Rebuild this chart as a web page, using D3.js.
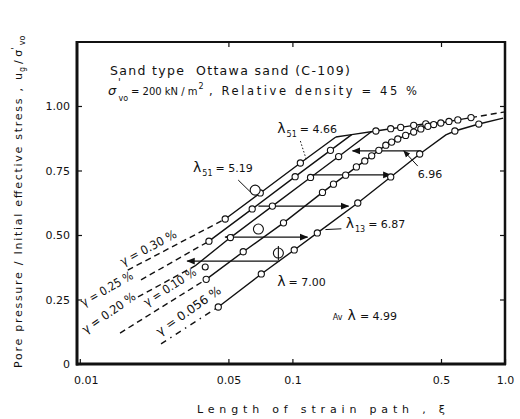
<!DOCTYPE html>
<html><head><meta charset="utf-8">
<script src="https://cdn.jsdelivr.net/npm/d3@7/dist/d3.min.js"></script>
<style>
body{margin:0;background:#fff}
svg text{font-family:"DejaVu Sans",sans-serif;fill:#111}
</style></head><body>
<script>
var W = 520, H = 419;

// axis ticks
var xTicks = [0.01, 0.05, 0.1, 0.5, 1.0];
var xTickLabels = ['0.01', '0.05', '0.1', '0.5', '1.0'];
var yTicks = [0, 0.25, 0.5, 0.75, 1.0];
var yTickLabels = ['0', '0.25', '0.50', '0.75', '1.00'];

// [strain path xi, u/sigma'vo, 1 = measured point]
var g030Dash = [[0.0168, 0.364], [0.0483, 0.562]];
var g030 = [[0.0483, 0.562, 1], [0.0706, 0.663, 1], [0.109, 0.779, 1], [0.160, 0.880, 0]];
var g025Dash = [[0.0194, 0.326], [0.0405, 0.476]];
var g025 = [[0.0405, 0.476, 1], [0.0647, 0.601, 1], [0.103, 0.726, 1], [0.151, 0.828, 1], [0.190, 0.889, 0]];
var g020Dash = [[0.01877, 0.260], [0.0348, 0.380]];
var g020 = [[0.0348, 0.380, 0], [0.0511, 0.490, 1], [0.0805, 0.612, 1], [0.1217, 0.723, 1], [0.165, 0.804, 1], [0.236, 0.901, 0]];
// common upper branch of the 0.20 - 0.30 % tests
var plateau = [[0.160, 0.880, 0], [0.190, 0.889, 0], [0.247, 0.903, 1], [0.290, 0.912, 1], [0.323, 0.917, 1],
               [0.372, 0.925, 1], [0.424, 0.931, 1], [0.499, 0.936, 0]];
var g010Dash = [[0.01546, 0.120], [0.0393, 0.328]];
var g010 = [[0.0393, 0.328, 1], [0.0587, 0.435, 1], [0.0908, 0.547, 1], [0.1385, 0.665, 1], [0.156, 0.697, 1],
            [0.178, 0.732, 1], [0.200, 0.764, 1], [0.219, 0.787, 1], [0.236, 0.807, 1], [0.255, 0.828, 1],
            [0.275, 0.848, 1], [0.293, 0.860, 1], [0.313, 0.872, 1], [0.341, 0.886, 1], [0.372, 0.899, 1],
            [0.402, 0.911, 1], [0.434, 0.921, 1], [0.462, 0.928, 1], [0.499, 0.934, 1], [0.545, 0.940, 1],
            [0.600, 0.946, 1], [0.692, 0.955, 1]];
var g010Tail = [[0.692, 0.955], [1.0, 0.977]];
var g056Dash = [[0.0241, 0.078], [0.0448, 0.221]];
var g056 = [[0.0448, 0.221, 1], [0.0714, 0.349, 1], [0.102, 0.442, 1], [0.131, 0.508, 1], [0.203, 0.624, 1],
            [0.290, 0.725, 1], [0.397, 0.814, 1], [0.527, 0.888, 0], [0.581, 0.903, 1], [0.753, 0.930, 1], [0.98, 0.953, 0]];

// horizontal shifts: [u, xi left, xi right, head left, head right]
var shifts = [[0.399, 0.032, 0.0869, 1, 0], [0.492, 0.0483, 0.1178, 1, 1], [0.612, 0.0692, 0.1837, 0, 1],
              [0.733, 0.124, 0.290, 0, 1], [0.826, 0.192, 0.402, 1, 0]];

var x = d3.scaleLog().domain([0.0097, 1.0]).range([77, 505]);
var y = d3.scaleLinear().domain([0, 1.248]).range([364, 42]);

var svg = d3.select('body').append('svg').attr('width', W).attr('height', H);
svg.append('defs').append('marker').attr('id', 'ah')
    .attr('viewBox', '0 0 10 10').attr('refX', 9).attr('refY', 5)
    .attr('markerWidth', 7).attr('markerHeight', 7).attr('orient', 'auto-start-reverse')
    .append('path').attr('d', 'M0,1L10,5L0,9z').attr('fill', '#111');

// axes - ticks point inwards
function styleAxis(g) {
    g.select('.domain').remove();
    g.selectAll('line').attr('stroke', '#111').attr('stroke-width', 1.2);
    g.selectAll('text').attr('font-size', 11).attr('font-family', '"DejaVu Sans",sans-serif');
}
svg.append('g').attr('transform', 'translate(0,364)')
    .call(d3.axisBottom(x).tickValues(xTicks).tickFormat(function (d, i) { return xTickLabels[i]; })
        .tickSize(-5).tickPadding(12))
    .call(styleAxis)
    .call(function (g) { g.select('.tick text').attr('dx', 6); });
svg.append('g').attr('transform', 'translate(77,0)')
    .call(d3.axisLeft(y).tickValues(yTicks).tickFormat(function (d, i) { return yTickLabels[i]; })
        .tickSize(-5).tickPadding(7))
    .call(styleAxis);
svg.append('g').attr('transform', 'translate(505,0)')
    .call(d3.axisRight(y).tickValues(yTicks.slice(1)).tickFormat('').tickSize(-5)).call(styleAxis);
svg.append('g').attr('transform', 'translate(0,42)')
    .call(d3.axisTop(x).tickValues([0.05, 0.1, 0.5]).tickFormat('').tickSize(-5)).call(styleAxis);

// frame
svg.append('line').attr('x1', 77).attr('x2', 77).attr('y1', 41).attr('y2', 365.5).attr('stroke', '#111').attr('stroke-width', 3);
svg.append('line').attr('x1', 76).attr('x2', 506).attr('y1', 364).attr('y2', 364).attr('stroke', '#111').attr('stroke-width', 3);
svg.append('line').attr('x1', 76).attr('x2', 506).attr('y1', 42).attr('y2', 42).attr('stroke', '#111').attr('stroke-width', 1.8);
svg.append('line').attr('x1', 505).attr('x2', 505).attr('y1', 41).attr('y2', 365).attr('stroke', '#111').attr('stroke-width', 2.5);

var line = d3.line().x(function (d) { return x(d[0]); }).y(function (d) { return y(d[1]); });
var solids = [g030, g025, g020, plateau, g010, g056];
var dashes = [g030Dash, g025Dash, g020Dash, g010Dash, g010Tail];

solids.forEach(function (s) {
    svg.append('path').attr('d', line(s)).attr('fill', 'none').attr('stroke', '#111').attr('stroke-width', 1.4);
});
dashes.forEach(function (s) {
    svg.append('path').attr('d', line(s)).attr('fill', 'none').attr('stroke', '#111')
        .attr('stroke-width', 1.4).attr('stroke-dasharray', '6,4');
});
svg.append('path').attr('d', line(g056Dash)).attr('fill', 'none').attr('stroke', '#111')
    .attr('stroke-width', 1.4).attr('stroke-dasharray', '6,5,1.5,5');

// shift arrows
shifts.forEach(function (a) {
    var l = svg.append('line').attr('x1', x(a[1])).attr('x2', x(a[2]))
        .attr('y1', y(a[0])).attr('y2', y(a[0])).attr('stroke', '#111').attr('stroke-width', 1.2);
    if (a[3]) l.attr('marker-start', 'url(#ah)');
    if (a[4]) l.attr('marker-end', 'url(#ah)');
});

// measured points
var pts = [];
solids.forEach(function (s) { s.forEach(function (d) { if (d[2]) pts.push(d); }); });
svg.selectAll('circle.pt').data(pts).enter().append('circle').attr('class', 'pt')
    .attr('cx', function (d) { return x(d[0]); })
    .attr('cy', function (d) { return y(d[1]); })
    .attr('r', 3.1).attr('fill', '#fff').attr('stroke', '#111').attr('stroke-width', 1.1);

// marked points
[[0.0668, 0.674, 5], [0.0692, 0.523, 5], [0.0859, 0.430, 5], [0.0389, 0.376, 3]].forEach(function (d, i) {
    svg.append('circle').attr('cx', x(d[0])).attr('cy', y(d[1])).attr('r', d[2])
        .attr('fill', '#fff').attr('stroke', '#111').attr('stroke-width', 1.1);
    if (i == 2) svg.append('line').attr('x1', x(d[0])).attr('x2', x(d[0]))
        .attr('y1', y(d[1]) - 7).attr('y2', y(d[1]) + 7).attr('stroke', '#111').attr('stroke-width', 1.1);
});

// pointer lines
function pointer(p, q, dash, head) {
    var l = svg.append('line').attr('x1', x(p[0])).attr('y1', y(p[1])).attr('x2', x(q[0])).attr('y2', y(q[1]))
        .attr('stroke', '#111').attr('stroke-width', 1);
    if (dash) l.attr('stroke-dasharray', dash);
    if (head) l.attr('marker-end', 'url(#ah)');
}
pointer([0.109, 0.864], [0.1164, 0.791], '1.5,2');
pointer([0.0556, 0.713], [0.0634, 0.667]);
pointer([0.389, 0.767], [0.334, 0.826], null, true);
pointer([0.143, 0.521], [0.170, 0.524]);

// lambda labels
function lam(xi, u, sub, rest) {
    var t = svg.append('text').attr('x', x(xi)).attr('y', y(u)).attr('font-size', 11);
    t.append('tspan').attr('font-size', 14).text('λ');
    if (sub) t.append('tspan').attr('font-size', 8).attr('dy', 4).attr('dx', 1).text(sub);
    t.append('tspan').attr('dy', sub ? -4 : 0).attr('dx', 3).text(rest);
}
lam(0.0849, 0.895, '51', '= 4.66');
lam(0.0341, 0.744, '51', '= 5.19');
lam(0.178, 0.527, '13', '= 6.87');
lam(0.0849, 0.302, '', '= 7.00');
svg.append('text').attr('x', x(0.389)).attr('y', y(0.721)).attr('font-size', 11).text('6.96');
var av = svg.append('text').attr('x', x(0.155)).attr('y', y(0.171)).attr('font-size', 8);
av.append('tspan').text('Av');
av.append('tspan').attr('dx', 5).attr('font-size', 14).text('λ');
av.append('tspan').attr('dx', 4).attr('font-size', 11).text('= 4.99');

// strain amplitude labels
var gLabels = [['γ = 0.30 %', 0.01595, 0.380, -28, 62], ['γ = 0.25 %', 0.01044, 0.221, -30, 58],
               ['γ = 0.20 %', 0.01067, 0.116, -35, 62], ['γ = 0.10 %', 0.0207, 0.222, -33, 60],
               ['γ = 0.056 %', 0.0238, 0.1085, -35, 76]];
gLabels.forEach(function (g) {
    svg.append('text').attr('transform', 'translate(' + x(g[1]) + ',' + y(g[2]) + ') rotate(' + g[3] + ')')
        .attr('font-size', 12).attr('textLength', g[4]).attr('lengthAdjust', 'spacingAndGlyphs').text(g[0]);
});

// header text
svg.append('text').attr('x', 110).attr('y', 75).attr('font-size', 12.5).attr('textLength', 240)
    .style('white-space', 'pre').text('Sand type  Ottawa sand (C-109)');
svg.append('text').attr('x', 108).attr('y', 95).attr('font-size', 13).attr('font-style', 'italic').text('σ');
svg.append('text').attr('x', 118).attr('y', 86).attr('font-size', 10).text('\'');
svg.append('text').attr('x', 118.5).attr('y', 101).attr('font-size', 8).text('vo');
var unit = svg.append('text').attr('x', 131).attr('y', 95).attr('font-size', 10);
unit.append('tspan').text('= 200 kN / m');
unit.append('tspan').attr('font-size', 8).attr('dy', -6).attr('dx', 1).text('2');
svg.append('text').attr('x', 209).attr('y', 95).attr('font-size', 11.5).attr('textLength', 208).text(', Relative density = 45 %');

// axis titles
svg.append('text').attr('x', 197).attr('y', 413).attr('font-size', 11).attr('textLength', 248).text('Length of strain path , ξ');
svg.append('text').attr('transform', 'translate(22,368) rotate(-90)').attr('font-size', 11)
    .attr('textLength', 280).text('Pore pressure / Initial effective stress ,');
var yl = svg.append('text').attr('transform', 'translate(22,80) rotate(-90)').attr('font-size', 11);
yl.append('tspan').text('u');
yl.append('tspan').attr('font-size', 8).attr('dy', 3).attr('dx', 1).text('g');
yl.append('tspan').attr('dy', -3).attr('dx', 3).text('/ σ');
yl.append('tspan').attr('font-size', 9).attr('dy', -4).text('\'');
yl.append('tspan').attr('font-size', 8).attr('dy', 7).attr('dx', 2).text('vo');
</script>
</body></html>
